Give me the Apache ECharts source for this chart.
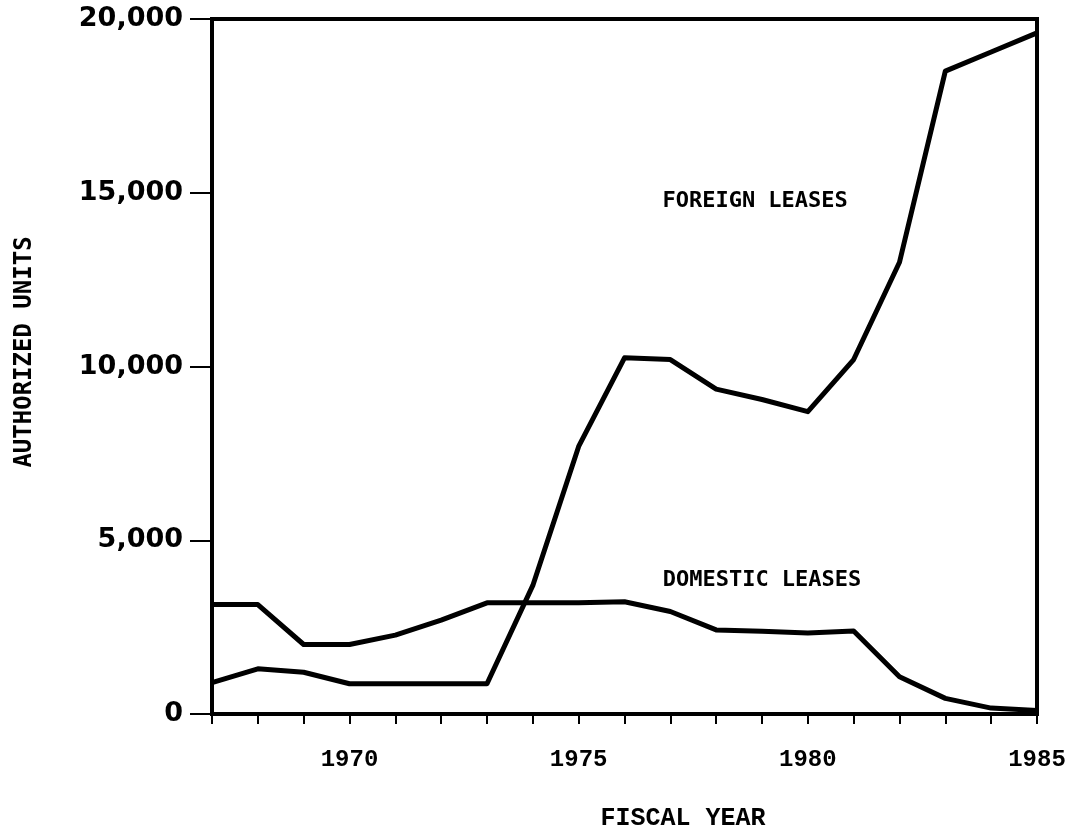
<!DOCTYPE html>
<html>
<head>
<meta charset="utf-8">
<script src="https://cdn.jsdelivr.net/npm/echarts@6/dist/echarts.min.js"></script>
<style>
  html, body { margin: 0; padding: 0; background: #fff; }
  #chart { width: 1079px; height: 833px; }
</style>
</head>
<body>
<div id="chart"></div>
<script>
// fiscal years 1967..1985
const years = [1967, 1968, 1969, 1970, 1971, 1972, 1973, 1974, 1975, 1976,
               1977, 1978, 1979, 1980, 1981, 1982, 1983, 1984, 1985];
const domesticLeases = [3150, 3150, 2000, 2000, 2270, 2700, 3200, 3200, 3200, 3230,
                        2950, 2420, 2380, 2330, 2390, 1070, 450, 170, 100];
const foreignLeases = [900, 1300, 1200, 870, 870, 870, 870, 3700, 7700, 10250,
                       10200, 9350, 9050, 8700, 10200, 13000, 18500, 19050, 19600];
const yTicks = [0, 5000, 10000, 15000, 20000];
const xLabelYears = [1970, 1975, 1980, 1985];

// where the two series names sit, in data units
const labels = [
  { text: "FOREIGN LEASES", at: [1978.85, 14750] },
  { text: "DOMESTIC LEASES", at: [1979.0, 3850] }
];

const chart = echarts.init(document.getElementById("chart"));

const toPairs = (vals) => years.map((y, i) => [y, vals[i]]);

const lineStyle = { color: "#000", width: 5, join: "round" };

const option = {
  backgroundColor: "#fff",
  animation: false,
  grid: {
    left: 212, right: 42, top: 19, bottom: 119,
    show: true, borderColor: "#000", borderWidth: 4
  },
  xAxis: {
    type: "value",
    min: 1967, max: 1985, interval: 1,
    axisLine: { show: true, lineStyle: { color: "#000", width: 4 } },
    axisTick: { show: true, inside: false, length: 10, lineStyle: { color: "#000", width: 2 } },
    splitLine: { show: false },
    axisLabel: {
      margin: 34,
      color: "#000",
      fontFamily: "Liberation Mono",
      fontWeight: "bold",
      fontSize: 24,
      formatter: (v) => (xLabelYears.includes(v) ? String(v) : "")
    }
  },
  yAxis: {
    type: "value",
    min: yTicks[0], max: yTicks[yTicks.length - 1], interval: 5000,
    axisLine: { show: true, lineStyle: { color: "#000", width: 4 } },
    axisTick: { show: true, inside: false, length: 22, lineStyle: { color: "#000", width: 2 } },
    splitLine: { show: false },
    axisLabel: {
      margin: 29,
      color: "#000",
      fontFamily: "DejaVu Sans",
      fontWeight: "bold",
      fontSize: 27,
      formatter: (v) => v.toLocaleString("en-US")
    }
  },
  series: [
    {
      name: "Domestic leases",
      type: "line",
      data: toPairs(domesticLeases),
      symbol: "none",
      lineStyle: lineStyle
    },
    {
      name: "Foreign leases",
      type: "line",
      data: toPairs(foreignLeases),
      symbol: "none",
      lineStyle: lineStyle
    }
  ]
};

chart.setOption(option);

// axis titles and series names as plain text
const graphics = labels.map((l) => {
  const p = chart.convertToPixel({ gridIndex: 0 }, l.at);
  return {
    type: "text",
    x: p[0], y: p[1],
    style: {
      text: l.text,
      fill: "#000",
      font: "bold 22px 'DejaVu Sans Mono'",
      align: "center",
      verticalAlign: "middle"
    }
  };
});
graphics.push({
  type: "text",
  x: 683, y: 819,
  style: {
    text: "FISCAL YEAR",
    fill: "#000",
    font: "bold 25px 'Liberation Mono'",
    align: "center",
    verticalAlign: "middle"
  }
});
graphics.push({
  type: "text",
  x: 25, y: 352,
  rotation: Math.PI / 2,
  style: {
    text: "AUTHORIZED UNITS",
    fill: "#000",
    font: "bold 24px 'DejaVu Sans Mono'",
    align: "center",
    verticalAlign: "middle"
  }
});
chart.setOption({ graphic: graphics });
</script>
</body>
</html>
